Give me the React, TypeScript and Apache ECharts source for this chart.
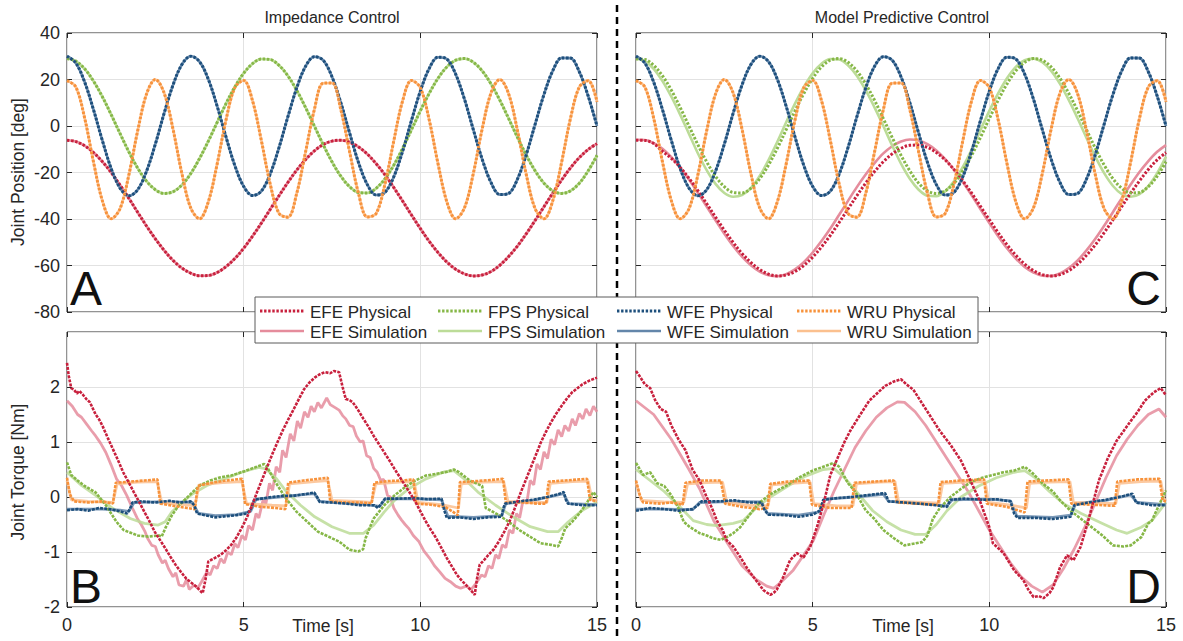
import React, { useEffect, useRef } from "react";
import * as echarts from "echarts";

// ---------- time base for joint positions (s) ----------
const tPos = [
  0, 0.25, 0.5, 0.75, 1, 1.25, 1.5, 1.75, 2, 2.25,
  2.5, 2.75, 3, 3.25, 3.5, 3.75, 4, 4.25, 4.5, 4.75,
  5, 5.25, 5.5, 5.75, 6, 6.25, 6.5, 6.75, 7, 7.25,
  7.5, 7.75, 8, 8.25, 8.5, 8.75, 9, 9.25, 9.5, 9.75,
  10, 10.25, 10.5, 10.75, 11, 11.25, 11.5, 11.75, 12, 12.25,
  12.5, 12.75, 13, 13.25, 13.5, 13.75, 14, 14.25, 14.5, 14.75, 15,
];

// ---------- joint positions (deg) ----------
const posEFE = [
  -6.1, -6.7, -8.5, -11.4, -15.3, -20.0, -25.4, -31.1, -37.1, -43.0,
  -48.5, -53.5, -57.8, -61.1, -63.3, -64.4, -64.3, -63.0, -60.5, -57.0,
  -52.6, -47.4, -41.8, -35.9, -30.0, -24.3, -19.0, -14.5, -10.7, -8.0,
  -6.5, -6.1, -7.0, -9.0, -12.1, -16.2, -21.0, -26.5, -32.3, -38.3,
  -44.1, -49.6, -54.4, -58.5, -61.6, -63.6, -64.5, -64.1, -62.6, -59.9,
  -56.1, -51.6, -46.3, -40.6, -34.7, -28.8, -23.2, -18.0, -13.6, -10.1, -7.6,
];
const posFPS = [
  29.0, 27.9, 24.6, 19.3, 12.6, 4.9, -3.2, -11.1, -18.1, -23.7,
  -27.4, -29.0, -28.3, -25.4, -20.5, -14.0, -6.5, 1.6, 9.6, 16.8,
  22.7, 26.8, 28.8, 28.6, 26.1, 21.6, 15.4, 8.0, 0.0, -8.0,
  -15.4, -21.6, -26.1, -28.6, -28.8, -26.8, -22.7, -16.8, -9.6, -1.6,
  6.5, 14.0, 20.5, 25.4, 28.3, 29.0, 27.4, 23.7, 18.1, 11.1,
  3.2, -4.9, -12.6, -19.3, -24.6, -27.9, -29.0, -27.9, -24.6, -19.3, -12.6,
];
const posWFE = [
  30.0, 27.1, 18.9, 7.0, -6.2, -18.3, -26.7, -30.0, -27.4, -19.5,
  -7.8, 5.5, 17.6, 26.4, 30.0, 27.7, 20.1, 8.5, -4.7, -17.0,
  -26.0, -29.9, -28.0, -20.7, -9.3, 3.9, 16.3, 25.6, 29.8, 28.3,
  21.2, 10.0, -3.1, -15.7, -25.2, -29.7, -28.5, -21.8, -10.8, 2.4,
  15.0, 24.7, 29.6, 28.8, 22.3, 11.5, -1.6, -14.3, -24.3, -29.5,
  -29.0, -22.8, -12.2, 0.8, 13.6, 23.8, 29.3, 29.2, 23.3, 12.9, 0.0,
];
const posWRU = [
  19.5, 16.8, 3.4, -15.5, -32.1, -39.9, -35.6, -21.1, -2.1, 13.7,
  20.0, 14.2, -1.3, -20.3, -35.2, -39.9, -32.6, -16.3, 2.6, 16.5,
  19.6, 10.9, -6.2, -24.9, -37.6, -39.2, -29.1, -11.3, 7.0, 18.4,
  18.5, 7.0, -11.2, -29.0, -39.1, -37.6, -24.9, -6.3, 10.9, 19.6,
  16.5, 2.7, -16.2, -32.6, -39.9, -35.2, -20.4, -1.3, 14.2, 20.0,
  13.8, -2.0, -21.0, -35.6, -39.9, -32.1, -15.5, 3.3, 16.8, 19.5, 10.4,
];
const mpcPosEFEPhys = [
  -6.1, -6.2, -7.5, -10.9, -13.9, -17.8, -22.5, -27.8, -33.4, -39.2,
  -44.8, -50.1, -54.8, -58.7, -61.7, -63.7, -64.5, -64.1, -62.6, -60.0,
  -56.4, -52.0, -47.0, -41.5, -35.7, -30.0, -24.6, -19.6, -15.4, -12.0,
  -9.6, -8.3, -8.2, -9.2, -11.4, -14.6, -18.7, -23.6, -28.9, -34.6,
  -40.3, -45.9, -51.1, -55.6, -59.4, -62.2, -63.9, -64.5, -63.9, -62.2,
  -59.4, -55.6, -51.1, -45.9, -40.3, -34.6, -28.9, -23.6, -18.7, -14.6, -11.4,
];
const mpcPosEFESim = [
  -5.9, -6.0, -7.4, -9.8, -13.4, -17.8, -23.0, -28.7, -34.6, -40.6,
  -46.3, -51.6, -56.2, -59.9, -62.6, -64.2, -64.6, -63.7, -61.7, -58.6,
  -54.4, -49.5, -44.1, -38.2, -32.2, -26.3, -20.9, -16.0, -11.8, -8.7,
  -6.7, -5.8, -6.2, -7.8, -10.5, -14.2, -18.8, -24.1, -29.8, -35.8,
  -41.7, -47.4, -52.6, -57.0, -60.6, -63.0, -64.4, -64.5, -63.4, -61.1,
  -57.8, -53.5, -48.5, -42.9, -37.0, -31.0, -25.2, -19.8, -15.1, -11.1, -8.2,
];
const mpcPosFPSPhys = [
  28.8, 28.6, 26.1, 21.6, 15.4, 8.0, 0.0, -8.0, -15.4, -21.6,
  -26.1, -28.6, -28.8, -26.8, -22.7, -16.8, -9.6, -1.6, 6.5, 14.0,
  20.5, 25.4, 28.3, 29.0, 27.4, 23.7, 18.1, 11.1, 3.2, -4.9,
  -12.6, -19.3, -24.6, -27.9, -29.0, -27.9, -24.6, -19.3, -12.6, -4.9,
  3.2, 11.1, 18.1, 23.7, 27.4, 29.0, 28.3, 25.4, 20.5, 14.0,
  6.5, -1.6, -9.6, -16.8, -22.7, -26.8, -28.8, -28.6, -26.1, -21.6, -15.4,
];
const mpcPosFPSSim = [
  29.0, 27.9, 24.6, 19.3, 12.6, 4.9, -3.4, -11.7, -19.0, -24.9,
  -28.8, -30.4, -29.7, -26.7, -21.5, -14.7, -6.8, 1.6, 9.6, 16.8,
  22.7, 26.8, 28.8, 28.6, 26.1, 21.6, 15.4, 8.0, 0.0, -8.4,
  -16.2, -22.7, -27.4, -30.0, -30.2, -28.1, -23.8, -17.6, -10.1, -1.7,
  6.5, 14.0, 20.5, 25.4, 28.3, 29.0, 27.4, 23.7, 18.1, 11.1,
  3.2, -5.1, -13.2, -20.3, -25.8, -29.3, -30.4, -29.3, -25.8, -20.3, -13.2,
];

// ---------- joint torques (Nm), [time, value] ----------
const impTqEFEPhys = [
  [0, 2.44], [0.05, 2.2], [0.12, 1.98], [0.2, 1.95], [0.28, 1.88], [0.35, 1.93], [0.45, 1.86], [0.55, 1.78],
  [0.65, 1.72], [0.81, 1.5], [0.9, 1.42], [1.0, 1.3], [1.15, 1.08], [1.3, 0.87], [1.45, 0.66], [1.59, 0.45],
  [1.75, 0.26], [1.89, 0.09], [2.05, -0.1], [2.19, -0.27], [2.35, -0.46], [2.48, -0.63], [2.62, -0.77],
  [2.78, -0.93], [2.92, -1.08], [3.07, -1.23], [3.22, -1.36], [3.37, -1.48], [3.52, -1.56], [3.66, -1.63],
  [3.76, -1.7], [3.84, -1.75], [3.92, -1.5], [4.0, -1.17], [4.15, -1.12], [4.35, -1.05], [4.5, -0.97],
  [4.65, -0.87], [4.8, -0.73], [4.94, -0.57], [5.1, -0.36], [5.24, -0.15], [5.38, 0.09], [5.53, 0.33],
  [5.68, 0.57], [5.83, 0.81], [5.98, 1.03], [6.12, 1.23], [6.27, 1.42], [6.42, 1.6], [6.57, 1.79],
  [6.71, 1.96], [6.86, 2.08], [7.01, 2.17], [7.15, 2.23], [7.3, 2.27], [7.45, 2.25], [7.55, 2.29],
  [7.7, 2.27], [7.8, 2.0], [7.89, 1.78], [8.0, 1.76], [8.09, 1.72], [8.24, 1.58], [8.39, 1.42], [8.54, 1.27],
  [8.68, 1.11], [8.83, 0.96], [8.98, 0.81], [9.13, 0.66], [9.27, 0.51], [9.42, 0.36], [9.57, 0.21],
  [9.72, 0.06], [9.86, -0.09], [10.01, -0.27], [10.16, -0.45], [10.3, -0.6], [10.45, -0.75], [10.6, -0.93],
  [10.75, -1.11], [10.9, -1.27], [11.04, -1.42], [11.2, -1.54], [11.34, -1.63], [11.45, -1.71], [11.54, -1.78],
  [11.6, -1.5], [11.68, -1.23], [11.8, -1.15], [11.93, -1.05], [12.08, -0.95], [12.22, -0.81], [12.37, -0.64],
  [12.52, -0.45], [12.67, -0.21], [12.81, 0.03], [12.96, 0.27], [13.11, 0.51], [13.26, 0.75], [13.41, 0.99],
  [13.55, 1.18], [13.7, 1.36], [13.85, 1.52], [14.0, 1.66], [14.15, 1.79], [14.29, 1.9], [14.45, 1.98],
  [14.59, 2.05], [14.8, 2.12], [15, 2.17],
];
const impTqEFESim = [
  [0, 1.75], [0.15, 1.65], [0.3, 1.5], [0.41, 1.45], [0.55, 1.33], [0.7, 1.2], [0.81, 1.11], [0.95, 0.98],
  [1.1, 0.81], [1.25, 0.58], [1.4, 0.33], [1.55, 0.2], [1.69, 0.03], [1.85, -0.2], [1.99, -0.39], [2.1, -0.5],
  [2.2, -0.62], [2.28, -0.75], [2.4, -0.88], [2.5, -0.9], [2.58, -1.05], [2.7, -1.2], [2.78, -1.15],
  [2.87, -1.3], [3.0, -1.45], [3.08, -1.38], [3.17, -1.6], [3.3, -1.62], [3.38, -1.5], [3.46, -1.68],
  [3.6, -1.6], [3.7, -1.66], [3.8, -1.55], [3.96, -1.36], [4.05, -1.42], [4.15, -1.25], [4.25, -1.3],
  [4.35, -1.12], [4.45, -1.2], [4.55, -1.0], [4.65, -1.05], [4.75, -0.85], [4.84, -0.92], [4.95, -0.7],
  [5.05, -0.78], [5.14, -0.52], [5.25, -0.6], [5.35, -0.3], [5.43, -0.38], [5.55, -0.05], [5.63, -0.12],
  [5.73, 0.25], [5.82, 0.12], [5.92, 0.55], [6.02, 0.45], [6.1, 0.85], [6.2, 0.72], [6.32, 1.15],
  [6.42, 1.02], [6.52, 1.38], [6.61, 1.25], [6.72, 1.55], [6.82, 1.45], [6.91, 1.65], [7.0, 1.55],
  [7.1, 1.72], [7.2, 1.62], [7.35, 1.8], [7.45, 1.68], [7.6, 1.62], [7.7, 1.58], [7.8, 1.48], [7.89, 1.42],
  [8.0, 1.3], [8.1, 1.28], [8.19, 1.11], [8.3, 1.0], [8.38, 1.02], [8.48, 0.75], [8.58, 0.72], [8.68, 0.52],
  [8.78, 0.45], [8.88, 0.3], [8.96, 0.32], [9.07, 0.03], [9.15, 0.0], [9.25, -0.2], [9.37, -0.33],
  [9.47, -0.42], [9.57, -0.5], [9.67, -0.57], [9.8, -0.7], [9.96, -0.81], [10.1, -0.98], [10.26, -1.11],
  [10.4, -1.25], [10.55, -1.36], [10.7, -1.48], [10.85, -1.54], [11.0, -1.62], [11.14, -1.66], [11.3, -1.62],
  [11.44, -1.68], [11.6, -1.55], [11.73, -1.42], [11.83, -1.45], [11.93, -1.25], [12.03, -1.3],
  [12.13, -1.05], [12.22, -1.12], [12.32, -0.87], [12.42, -0.92], [12.52, -0.6], [12.62, -0.66],
  [12.72, -0.3], [12.81, -0.38], [12.91, -0.05], [13.01, -0.12], [13.11, 0.3], [13.21, 0.22], [13.3, 0.6],
  [13.4, 0.5], [13.5, 0.82], [13.6, 0.7], [13.7, 1.05], [13.8, 0.95], [13.9, 1.22], [14.0, 1.1],
  [14.09, 1.3], [14.2, 1.2], [14.3, 1.42], [14.39, 1.3], [14.5, 1.52], [14.6, 1.42], [14.69, 1.6],
  [14.8, 1.48], [14.9, 1.65], [15, 1.55],
];
const impTqFPSPhys = [
  [0, 0.63], [0.12, 0.4], [0.3, 0.3], [0.5, 0.2], [0.8, 0.09], [1.1, -0.15], [1.4, -0.45], [1.6, -0.6],
  [1.8, -0.65], [2.0, -0.7], [2.3, -0.72], [2.6, -0.7], [2.68, -0.72], [2.78, -0.57], [2.97, -0.33],
  [3.17, -0.15], [3.37, -0.03], [3.56, 0.09], [3.76, 0.21], [4.05, 0.3], [4.35, 0.36], [4.65, 0.39],
  [4.94, 0.45], [5.33, 0.54], [5.58, 0.6], [5.65, 0.56], [5.9, 0.27], [6.2, -0.03], [6.5, -0.27],
  [6.8, -0.45], [7.1, -0.63], [7.4, -0.72], [7.7, -0.81], [8.0, -0.96], [8.24, -0.99], [8.38, -0.95],
  [8.45, -0.75], [8.6, -0.51], [8.68, -0.39], [8.98, -0.15], [9.27, 0.03], [9.57, 0.18], [9.86, 0.3],
  [10.16, 0.39], [10.45, 0.42], [10.75, 0.46], [10.95, 0.5], [11.1, 0.45], [11.4, 0.3], [11.75, 0.2],
  [11.85, -0.2], [12.0, -0.25], [12.2, -0.32], [12.5, -0.45], [12.8, -0.6], [13.1, -0.72], [13.4, -0.84],
  [13.7, -0.87], [13.9, -0.9], [14.0, -0.75], [14.1, -0.57], [14.3, -0.45], [14.5, -0.3], [14.7, -0.12],
  [14.9, 0.09], [15, 0.0],
];
const impTqFPSSim = [
  [0, 0.45], [0.41, 0.21], [0.81, 0.03], [1.3, -0.21], [1.79, -0.39], [2.19, -0.48], [2.58, -0.51],
  [2.78, -0.45], [2.97, -0.27], [3.27, -0.09], [3.56, 0.06], [3.96, 0.21], [4.45, 0.33], [4.94, 0.45],
  [5.43, 0.54], [5.63, 0.51], [5.93, 0.33], [6.22, 0.09], [6.61, -0.15], [7.01, -0.36], [7.5, -0.54],
  [7.99, -0.66], [8.39, -0.66], [8.68, -0.51], [8.98, -0.27], [9.27, -0.06], [9.67, 0.15], [10.16, 0.33],
  [10.65, 0.45], [10.95, 0.48], [11.24, 0.33], [11.63, 0.09], [12.13, -0.15], [12.62, -0.36],
  [13.11, -0.54], [13.6, -0.63], [13.9, -0.63], [14.19, -0.45], [14.59, -0.24], [15, -0.09],
];
const impTqWFEPhys = [
  [0, -0.24], [0.3, -0.22], [0.6, -0.25], [0.9, -0.2], [1.2, -0.22], [1.5, -0.26], [1.7, -0.3], [1.78, -0.22],
  [1.85, -0.1], [2.1, -0.08], [2.5, -0.1], [2.9, -0.07], [3.2, -0.1], [3.5, -0.08], [3.6, -0.15],
  [3.68, -0.3], [3.9, -0.33], [4.2, -0.37], [4.5, -0.35], [4.8, -0.33], [5.1, -0.3], [5.2, -0.22],
  [5.3, -0.05], [5.5, -0.03], [5.8, 0.0], [6.1, 0.02], [6.4, 0.02], [6.7, 0.05], [7.0, 0.08], [7.08, 0.0],
  [7.15, -0.09], [7.5, -0.1], [7.9, -0.12], [8.3, -0.15], [8.7, -0.15], [8.8, -0.2], [8.9, -0.12],
  [9.0, -0.03], [9.4, -0.03], [9.8, -0.02], [10.2, -0.04], [10.6, -0.03], [10.68, -0.25], [10.75, -0.38],
  [11.1, -0.37], [11.5, -0.4], [11.9, -0.37], [12.3, -0.36], [12.35, -0.2], [12.4, -0.12], [12.8, -0.08],
  [13.2, -0.05], [13.6, 0.0], [13.9, 0.05], [14.06, 0.09], [14.12, -0.05], [14.18, -0.12], [14.6, -0.15],
  [15, -0.15],
];
const impTqWFESim = [
  [0, -0.22], [0.5, -0.22], [1.0, -0.22], [1.5, -0.24], [1.75, -0.26], [1.9, -0.1], [2.5, -0.09],
  [3.0, -0.09], [3.55, -0.1], [3.72, -0.3], [4.2, -0.34], [4.8, -0.32], [5.2, -0.26], [5.35, -0.04],
  [6.0, 0.0], [6.6, 0.04], [7.0, 0.06], [7.15, -0.08], [7.8, -0.11], [8.5, -0.14], [8.85, -0.17],
  [9.0, -0.04], [9.8, -0.03], [10.6, -0.05], [10.78, -0.35], [11.5, -0.37], [12.3, -0.34], [12.42, -0.12],
  [13.2, -0.06], [13.9, 0.04], [14.05, 0.06], [14.2, -0.12], [15, -0.14],
];
const impTqWRUPhys = [
  [0, 0.35], [0.08, 0.05], [0.2, -0.08], [0.6, -0.1], [1.0, -0.08], [1.3, -0.12], [1.38, 0.26], [1.8, 0.28],
  [2.2, 0.3], [2.56, 0.32], [2.64, -0.12], [3.0, -0.16], [3.4, -0.2], [3.62, -0.22], [3.7, 0.2], [4.1, 0.26],
  [4.5, 0.3], [4.96, 0.33], [5.04, -0.13], [5.5, -0.18], [5.9, -0.2], [6.18, -0.22], [6.26, 0.26],
  [6.7, 0.3], [7.1, 0.33], [7.38, 0.35], [7.45, -0.08], [7.9, -0.1], [8.3, -0.1], [8.62, -0.12],
  [8.7, 0.26], [9.1, 0.29], [9.5, 0.3], [9.8, 0.32], [9.88, -0.12], [10.3, -0.14], [10.7, -0.18],
  [10.9, -0.26], [11.06, -0.33], [11.12, 0.27], [11.6, 0.29], [12.0, 0.31], [12.34, 0.33], [12.42, -0.1],
  [12.9, -0.1], [13.3, -0.12], [13.56, -0.12], [13.63, 0.28], [14.1, 0.3], [14.5, 0.32], [14.72, 0.33],
  [14.8, -0.05], [15, -0.08],
];
const impTqWRUSim = [
  [0, 0.3], [0.12, -0.05], [0.6, -0.08], [1.3, -0.1], [1.42, 0.24], [2.0, 0.27], [2.55, 0.28],
  [2.68, -0.1], [3.3, -0.14], [3.62, -0.16], [3.74, 0.22], [4.4, 0.26], [4.95, 0.28], [5.08, -0.12],
  [5.8, -0.15], [6.2, -0.16], [6.3, 0.24], [7.0, 0.28], [7.38, 0.3], [7.5, -0.06], [8.2, -0.08],
  [8.62, -0.1], [8.74, 0.24], [9.4, 0.27], [9.82, 0.28], [9.94, -0.1], [10.6, -0.14], [11.08, -0.2],
  [11.16, 0.24], [11.8, 0.27], [12.36, 0.28], [12.48, -0.08], [13.2, -0.1], [13.58, -0.1], [13.68, 0.25],
  [14.3, 0.28], [14.75, 0.29], [14.86, -0.05], [15, -0.06],
];

const mpcTqEFEPhys = [
  [0, 2.29], [0.1, 2.2], [0.25, 2.05], [0.4, 1.98], [0.55, 1.75], [0.7, 1.6], [0.85, 1.55], [1.0, 1.3],
  [1.2, 1.05], [1.4, 0.85], [1.6, 0.5], [1.8, 0.3], [2.0, 0.0], [2.15, -0.2], [2.29, -0.43], [2.45, -0.6],
  [2.57, -0.79], [2.75, -0.9], [2.95, -1.09], [3.15, -1.3], [3.32, -1.45], [3.5, -1.6], [3.6, -1.69],
  [3.8, -1.78], [3.9, -1.74], [3.98, -1.69], [4.17, -1.45], [4.36, -1.15], [4.55, -1.02], [4.74, -1.1],
  [4.93, -0.91], [5.12, -0.55], [5.3, -0.15], [5.5, 0.4], [5.7, 0.7], [5.9, 1.0], [6.06, 1.2],
  [6.3, 1.45], [6.6, 1.75], [6.85, 1.9], [7.05, 2.02], [7.3, 2.1], [7.5, 2.14], [7.65, 2.05],
  [7.85, 1.95], [8.05, 1.75], [8.3, 1.5], [8.6, 1.2], [8.9, 0.95], [9.2, 0.66], [9.5, 0.25], [9.75, -0.1],
  [10.0, -0.55], [10.1, -0.84], [10.4, -1.02], [10.7, -1.33], [10.96, -1.51], [11.1, -1.68], [11.25, -1.82],
  [11.4, -1.8], [11.53, -1.84], [11.7, -1.75], [11.81, -1.64], [12.0, -1.28], [12.2, -1.06], [12.38, -1.15],
  [12.58, -0.91], [12.78, -0.48], [13.1, 0.3], [13.35, 0.7], [13.6, 1.02], [14.0, 1.38], [14.2, 1.55],
  [14.4, 1.75], [14.65, 1.9], [14.85, 1.98], [15, 1.85],
];
const mpcTqEFESim = [
  [0, 1.75], [0.5, 1.5], [1.0, 1.05], [1.5, 0.5], [1.8, 0.15], [2.2, -0.43], [2.6, -0.85], [3.0, -1.25],
  [3.4, -1.5], [3.7, -1.62], [3.9, -1.66], [4.1, -1.55], [4.45, -1.33], [4.75, -1.05], [5.02, -0.79],
  [5.3, -0.35], [5.6, 0.1], [5.9, 0.5], [6.2, 0.9], [6.5, 1.2], [6.8, 1.45], [7.1, 1.62], [7.4, 1.73],
  [7.6, 1.72], [7.9, 1.55], [8.2, 1.3], [8.5, 1.0], [8.8, 0.7], [9.1, 0.4], [9.4, 0.1], [9.7, -0.25],
  [10.0, -0.6], [10.3, -0.9], [10.6, -1.2], [10.9, -1.45], [11.2, -1.62], [11.5, -1.73], [11.8, -1.6],
  [12.1, -1.3], [12.4, -0.95], [12.7, -0.55], [13.0, -0.1], [13.3, 0.35], [13.6, 0.75], [13.9, 1.05],
  [14.2, 1.3], [14.5, 1.5], [14.8, 1.6], [15, 1.45],
];
const mpcTqFPSPhys = [
  [0, 0.62], [0.2, 0.4], [0.4, 0.45], [0.6, 0.25], [0.8, 0.2], [1.0, 0.03], [1.2, -0.2], [1.35, -0.45],
  [1.53, -0.55], [1.81, -0.66], [2.0, -0.7], [2.18, -0.75], [2.4, -0.78], [2.57, -0.73], [2.75, -0.66],
  [2.95, -0.55], [3.09, -0.43], [3.3, -0.25], [3.5, -0.1], [3.8, 0.05], [4.0, 0.12], [4.3, 0.22],
  [4.6, 0.35], [5.0, 0.48], [5.3, 0.55], [5.6, 0.62], [5.75, 0.55], [6.0, 0.25], [6.2, 0.1], [6.5, -0.24],
  [6.75, -0.4], [7.0, -0.6], [7.3, -0.75], [7.6, -0.88], [7.85, -0.85], [8.1, -0.82], [8.25, -0.7],
  [8.4, -0.4], [8.6, -0.2], [8.9, 0.0], [9.2, 0.15], [9.5, 0.28], [9.8, 0.35], [10.1, 0.4], [10.4, 0.45],
  [10.7, 0.48], [11.0, 0.55], [11.2, 0.45], [11.5, 0.25], [11.8, 0.1], [12.0, -0.06], [12.3, -0.25],
  [12.6, -0.4], [13.0, -0.6], [13.2, -0.7], [13.5, -0.88], [13.8, -0.9], [14.0, -0.88], [14.3, -0.73],
  [14.5, -0.48], [14.6, -0.43], [14.8, -0.15], [15, 0.12],
];
const mpcTqFPSSim = [
  [0, 0.5], [0.4, 0.3], [0.8, 0.1], [1.2, -0.15], [1.62, -0.43], [2.0, -0.5], [2.28, -0.52], [2.75, -0.48],
  [3.03, -0.43], [3.4, -0.2], [3.8, 0.0], [4.3, 0.2], [4.8, 0.38], [5.3, 0.5], [5.6, 0.52], [5.9, 0.35],
  [6.3, 0.05], [6.7, -0.25], [7.1, -0.45], [7.5, -0.6], [7.9, -0.68], [8.2, -0.68], [8.5, -0.5],
  [8.8, -0.25], [9.2, 0.0], [9.7, 0.2], [10.2, 0.35], [10.7, 0.45], [11.0, 0.48], [11.3, 0.35],
  [11.7, 0.1], [12.1, -0.12], [12.6, -0.3], [13.2, -0.48], [13.6, -0.6], [13.9, -0.66], [14.3, -0.55],
  [14.6, -0.43], [15, -0.1],
];
const mpcTqWFEPhys = [
  [0, -0.25], [0.4, -0.2], [0.8, -0.22], [1.2, -0.25], [1.6, -0.22], [1.75, -0.15], [1.85, -0.08],
  [2.3, -0.08], [2.8, -0.06], [3.2, -0.1], [3.55, -0.1], [3.65, -0.25], [3.75, -0.32], [4.2, -0.33],
  [4.6, -0.36], [5.0, -0.32], [5.2, -0.25], [5.3, -0.05], [5.7, -0.02], [6.1, 0.0], [6.5, 0.03],
  [6.9, 0.06], [7.05, 0.07], [7.15, -0.08], [7.6, -0.1], [8.0, -0.12], [8.5, -0.15], [8.8, -0.18],
  [8.9, -0.05], [9.3, -0.03], [9.8, -0.05], [10.2, -0.04], [10.6, -0.08], [10.7, -0.3], [10.8, -0.38],
  [11.3, -0.38], [11.8, -0.4], [12.3, -0.36], [12.4, -0.15], [12.8, -0.1], [13.3, -0.05], [13.8, 0.02],
  [14.05, 0.06], [14.15, -0.1], [14.6, -0.15], [15, -0.15],
];
const mpcTqWFESim = [
  [0, -0.22], [0.8, -0.22], [1.6, -0.23], [1.8, -0.1], [2.8, -0.08], [3.55, -0.09], [3.72, -0.3],
  [4.6, -0.33], [5.2, -0.27], [5.35, -0.04], [6.2, 0.0], [7.0, 0.05], [7.15, -0.08], [8.0, -0.11],
  [8.8, -0.16], [8.95, -0.05], [10.0, -0.04], [10.6, -0.07], [10.78, -0.35], [11.8, -0.37], [12.3, -0.33],
  [12.45, -0.12], [13.3, -0.06], [14.0, 0.04], [14.18, -0.1], [15, -0.14],
];
const mpcTqWRUPhys = [
  [0, 0.3], [0.1, 0.05], [0.2, -0.1], [0.7, -0.12], [1.0, -0.1], [1.32, -0.14], [1.4, 0.26], [1.9, 0.3],
  [2.4, 0.3], [2.52, -0.12], [3.0, -0.18], [3.5, -0.22], [3.72, -0.2], [3.8, 0.24], [4.3, 0.28],
  [4.9, 0.3], [4.98, -0.14], [5.5, -0.2], [6.1, -0.2], [6.18, 0.26], [6.7, 0.28], [7.3, 0.3], [7.38, -0.1],
  [7.9, -0.12], [8.55, -0.14], [8.62, 0.27], [9.2, 0.3], [9.85, 0.32], [9.93, -0.12], [10.5, -0.18],
  [11.0, -0.28], [11.08, 0.28], [11.6, 0.3], [12.24, 0.32], [12.32, -0.12], [12.9, -0.14], [13.55, -0.16],
  [13.62, 0.28], [14.2, 0.32], [14.82, 0.33], [14.9, -0.06], [15, -0.08],
];
const mpcTqWRUSim = [
  [0, 0.25], [0.15, -0.06], [0.8, -0.09], [1.35, -0.1], [1.46, 0.24], [2.0, 0.26], [2.45, 0.27],
  [2.57, -0.1], [3.2, -0.15], [3.74, -0.16], [3.84, 0.22], [4.4, 0.25], [4.93, 0.27], [5.03, -0.12],
  [5.7, -0.16], [6.14, -0.16], [6.24, 0.24], [6.9, 0.27], [7.33, 0.28], [7.43, -0.08], [8.1, -0.1],
  [8.58, -0.11], [8.68, 0.25], [9.3, 0.27], [9.88, 0.28], [9.98, -0.1], [10.6, -0.15], [11.05, -0.2],
  [11.14, 0.25], [11.7, 0.27], [12.28, 0.28], [12.38, -0.1], [13.0, -0.11], [13.58, -0.12], [13.68, 0.25],
  [14.3, 0.28], [14.85, 0.29], [14.95, -0.05], [15, -0.06],
];

// ---------- axis ticks ----------
const timeTicks = [0, 5, 10, 15];
const posTickRange = [-80, 40];
const torqueTickRange = [-2, 3];

const FONT = "'Liberation Sans', Arial, Helvetica, sans-serif";
const AX = "#262626";
const COL: Record<string, [string, string]> = {
  EFE: ["#c8203d", "#e58c9c"],
  FPS: ["#86b747", "#bcdc98"],
  WFE: ["#1d4f7c", "#6386aa"],
  WRU: ["#f7923b", "#fbc08f"],
};

const zip = (t: number[], v: number[]) => t.map((x, i) => [x, v[i]]);

const GRIDS = [
  { left: 67, top: 33, width: 530, height: 279 },
  { left: 636, top: 33, width: 530, height: 279 },
  { left: 67, top: 332, width: 530, height: 275 },
  { left: 636, top: 332, width: 530, height: 275 },
];

export default function App() {
  const ref = useRef<HTMLDivElement>(null);
  useEffect(() => {
    if (!ref.current) return;
    const chart = echarts.init(ref.current, null, { renderer: "svg" });

    const physStyle = (c: string, torque: boolean) => ({
      color: c,
      width: torque ? 2.6 : 3,
      type: torque ? [3, 1.2] : [2.4, 1.7],
      cap: "butt",
    });
    const simStyle = (c: string, torque: boolean) => ({
      color: c,
      width: torque ? 2.8 : 2.6,
      type: "solid",
      opacity: torque ? 0.85 : 1,
    });

    const series: any[] = [];
    const add = (name: string, grid: number, data: any[], joint: string, phys: boolean, torque: boolean) => {
      series.push({
        name,
        type: "line",
        xAxisIndex: grid,
        yAxisIndex: grid,
        data,
        showSymbol: false,
        smooth: torque ? false : 0.35,
        silent: true,
        lineStyle: phys ? physStyle(COL[joint][0], torque) : simStyle(COL[joint][1], torque),
        z: phys ? 3 : 2,
      });
    };

    // A: impedance positions
    add("EFE Simulation", 0, zip(tPos, posEFE), "EFE", false, false);
    add("FPS Simulation", 0, zip(tPos, posFPS), "FPS", false, false);
    add("WFE Simulation", 0, zip(tPos, posWFE), "WFE", false, false);
    add("WRU Simulation", 0, zip(tPos, posWRU), "WRU", false, false);
    add("EFE Physical", 0, zip(tPos, posEFE), "EFE", true, false);
    add("FPS Physical", 0, zip(tPos, posFPS), "FPS", true, false);
    add("WFE Physical", 0, zip(tPos, posWFE), "WFE", true, false);
    add("WRU Physical", 0, zip(tPos, posWRU), "WRU", true, false);
    // C: MPC positions
    add("EFE Simulation", 1, zip(tPos, mpcPosEFESim), "EFE", false, false);
    add("FPS Simulation", 1, zip(tPos, mpcPosFPSSim), "FPS", false, false);
    add("WFE Simulation", 1, zip(tPos, posWFE), "WFE", false, false);
    add("WRU Simulation", 1, zip(tPos, posWRU), "WRU", false, false);
    add("EFE Physical", 1, zip(tPos, mpcPosEFEPhys), "EFE", true, false);
    add("FPS Physical", 1, zip(tPos, mpcPosFPSPhys), "FPS", true, false);
    add("WFE Physical", 1, zip(tPos, posWFE), "WFE", true, false);
    add("WRU Physical", 1, zip(tPos, posWRU), "WRU", true, false);
    // B: impedance torques
    add("EFE Simulation", 2, impTqEFESim, "EFE", false, true);
    add("FPS Simulation", 2, impTqFPSSim, "FPS", false, true);
    add("WFE Simulation", 2, impTqWFESim, "WFE", false, true);
    add("WRU Simulation", 2, impTqWRUSim, "WRU", false, true);
    add("FPS Physical", 2, impTqFPSPhys, "FPS", true, true);
    add("WRU Physical", 2, impTqWRUPhys, "WRU", true, true);
    add("WFE Physical", 2, impTqWFEPhys, "WFE", true, true);
    add("EFE Physical", 2, impTqEFEPhys, "EFE", true, true);
    // D: MPC torques
    add("EFE Simulation", 3, mpcTqEFESim, "EFE", false, true);
    add("FPS Simulation", 3, mpcTqFPSSim, "FPS", false, true);
    add("WFE Simulation", 3, mpcTqWFESim, "WFE", false, true);
    add("WRU Simulation", 3, mpcTqWRUSim, "WRU", false, true);
    add("FPS Physical", 3, mpcTqFPSPhys, "FPS", true, true);
    add("WRU Physical", 3, mpcTqWRUPhys, "WRU", true, true);
    add("WFE Physical", 3, mpcTqWFEPhys, "WFE", true, true);
    add("EFE Physical", 3, mpcTqEFEPhys, "EFE", true, true);

    const tick = { show: true, inside: true, length: 5, lineStyle: { color: AX } };
    const xAxis: any[] = [];
    const yAxis: any[] = [];
    GRIDS.forEach((_, i) => {
      // main (bottom) time axis
      xAxis.push({
        type: "value",
        gridIndex: i,
        position: "bottom",
        min: timeTicks[0],
        max: timeTicks[timeTicks.length - 1],
        interval: timeTicks[1] - timeTicks[0],
        axisLine: { show: false, onZero: false },
        axisTick: tick,
        splitLine: { show: true, lineStyle: { color: "#e2e2e2", width: 1 } },
        axisLabel: { show: i >= 2, color: AX, fontSize: 18, fontFamily: FONT, margin: 9 },
      });
    });
    GRIDS.forEach((_, i) => {
      const top = i < 2;
      const r = top ? posTickRange : torqueTickRange;
      yAxis.push({
        type: "value",
        gridIndex: i,
        position: "left",
        min: r[0],
        max: r[1],
        interval: top ? 20 : 1,
        axisLine: { show: false, onZero: false },
        axisTick: tick,
        splitLine: { show: true, lineStyle: { color: "#e2e2e2", width: 1 } },
        axisLabel: {
          show: i % 2 === 0,
          color: AX,
          fontSize: 18,
          fontFamily: FONT,
          margin: 7,
          showMaxLabel: top,
        },
      });
    });
    // mirrored box ticks (top / right)
    GRIDS.forEach((_, i) => {
      xAxis.push({
        type: "value",
        gridIndex: i,
        position: "top",
        min: timeTicks[0],
        max: timeTicks[timeTicks.length - 1],
        interval: timeTicks[1] - timeTicks[0],
        axisLine: { show: false, onZero: false },
        axisTick: tick,
        splitLine: { show: false },
        axisLabel: { show: false },
      });
      const top = i < 2;
      const r = top ? posTickRange : torqueTickRange;
      yAxis.push({
        type: "value",
        gridIndex: i,
        position: "right",
        min: r[0],
        max: r[1],
        interval: top ? 20 : 1,
        axisLine: { show: false, onZero: false },
        axisTick: tick,
        splitLine: { show: false },
        axisLabel: { show: false },
      });
    });

    const legendItems = [
      ["EFE Physical", "EFE", true], ["FPS Physical", "FPS", true], ["WFE Physical", "WFE", true], ["WRU Physical", "WRU", true],
      ["EFE Simulation", "EFE", false], ["FPS Simulation", "FPS", false], ["WFE Simulation", "WFE", false], ["WRU Simulation", "WRU", false],
    ] as [string, string, boolean][];
    const colX = [260, 438, 617, 797];
    const rowY = [311, 331];
    const legendEls: any[] = [
      {
        type: "rect",
        shape: { x: 255, y: 297, width: 723, height: 46 },
        style: { fill: "#fff", stroke: "#5a5a5a", lineWidth: 1 },
        z: 100,
      },
    ];
    legendItems.forEach(([label, joint, phys], i) => {
      const cx = colX[i % 4];
      const cy = rowY[Math.floor(i / 4)];
      legendEls.push({
        type: "line",
        shape: { x1: cx, y1: cy, x2: cx + 44, y2: cy },
        style: phys
          ? { stroke: COL[joint][0], lineWidth: 3, lineDash: [2.4, 1.7] }
          : { stroke: COL[joint][1], lineWidth: 2.6 },
        z: 101,
      });
      legendEls.push({
        type: "text",
        x: cx + 50,
        y: cy + 1,
        style: { text: label, fill: AX, font: `17px ${FONT}`, textAlign: "left", textVerticalAlign: "middle" },
        z: 101,
      });
    });

    const txt = (text: string, x: number, y: number, size: number, align = "center", extra: any = {}) => ({
      type: "text",
      x,
      y,
      style: { text, fill: extra.fill || AX, font: `${size}px ${FONT}`, textAlign: align, textVerticalAlign: "middle" },
      z: 50,
      ...(extra.rotation ? { rotation: extra.rotation } : {}),
    });

    const graphic: any[] = [
      txt("Impedance Control", 332, 17, 16),
      txt("Model Predictive Control", 902, 17, 16),
      txt("Joint Position [deg]", 18, 172, 17.5, "center", { rotation: Math.PI / 2 }),
      txt("Joint Torque [Nm]", 18, 472, 17.5, "center", { rotation: Math.PI / 2 }),
      txt("Time [s]", 323, 626, 17.5),
      txt("Time [s]", 903, 626, 17.5),
      txt("A", 70, 288, 48, "left", { fill: "#111" }),
      txt("B", 70, 586, 48, "left", { fill: "#111" }),
      txt("C", 1161, 288, 48, "right", { fill: "#111" }),
      txt("D", 1161, 586, 48, "right", { fill: "#111" }),
      {
        type: "line",
        shape: { x1: 617, y1: 5, x2: 617, y2: 638 },
        style: { stroke: "#000", lineWidth: 2.5, lineDash: [7, 5] },
        z: 60,
      },
      ...legendEls,
    ];

    chart.setOption({
      animation: false,
      backgroundColor: "#fff",
      grid: GRIDS.map((g) => ({
        ...g,
        show: true,
        borderColor: AX,
        borderWidth: 1,
        backgroundColor: "#fff",
        containLabel: false,
      })),
      xAxis,
      yAxis,
      series,
      graphic,
    });
    return () => chart.dispose();
  }, []);

  return (
    <div
      ref={ref}
      style={{ position: "absolute", left: 0, top: 0, width: 1183, height: 641, background: "#fff" }}
    />
  );
}
